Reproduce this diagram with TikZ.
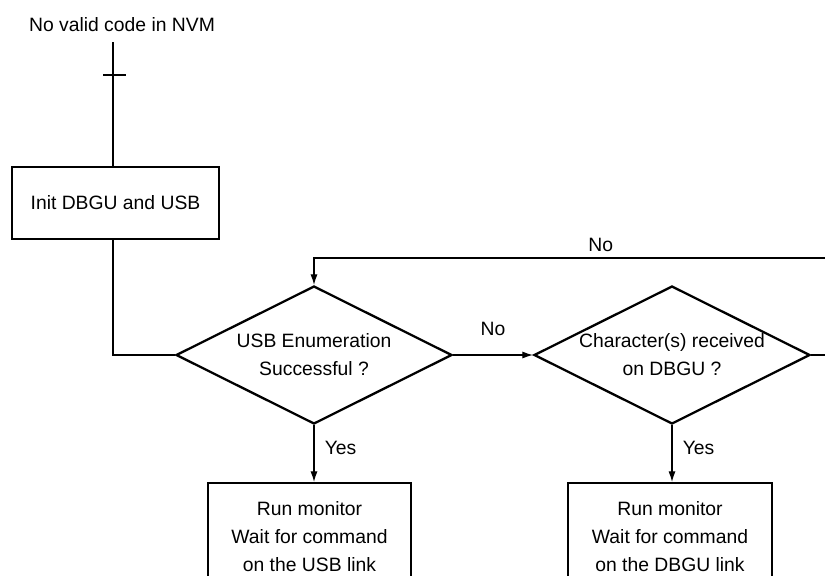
\documentclass[tikz,border=0pt]{standalone}
\usepackage{fontspec}
\setmainfont{Liberation Sans}
\usetikzlibrary{shapes.geometric,arrows.meta}
\tikzstyle{process}=[rectangle, draw, line width=1.3pt, align=center, inner sep=0pt]
\tikzstyle{decision}=[diamond, draw, line width=1.3pt, align=center, inner sep=0pt, shape aspect=2, minimum width=5.52cm, minimum height=2.76cm]
\tikzstyle{wire}=[line width=1.3pt]
\tikzstyle{flow}=[line width=0.6pt, -{Latex[length=6pt,width=4pt]}]

\begin{document}
\begin{tikzpicture}[x=0.02cm, y=-0.02cm, font=\fontsize{11}{16}\selectfont]
   \useasboundingbox (0,0) rectangle (825,575);
   \clip (0,0) rectangle (825,575);
   \node (start) at (122,25) {No valid code in NVM};
   \coordinate (entry) at (113,42);
   \coordinate (tick) at (113,75);
   \coordinate (loop) at (845,258);
   \node[process, minimum width=4.14cm, minimum height=1.44cm] (init) at (115.5,203) {Init DBGU and USB};
   \node[decision] (usb) at (314,355) {USB Enumeration\\Successful ?};
   \node[decision] (dbgu) at (672,355) {Character(s) received\\on DBGU ?};
   \node[process, minimum width=4.06cm, minimum height=2.14cm] (runusb) at (309.5,536.5) {Run monitor\\Wait for command\\on the USB link};
   \node[process, minimum width=4.08cm, minimum height=2.14cm] (rundbgu) at (670,536.5) {Run monitor\\Wait for command\\on the DBGU link};

   \draw[wire] (entry) -- (entry |- init.north);
   \draw[wire] (tick) ++(-10,0) -- ++(23,0);
   \draw[wire] (init.south -| entry) |- (usb.west);
   \draw[flow] (usb.east) -- node[above=7.5pt] {No} (dbgu.west);
   \draw[flow] (usb.south) -- node[pos=0.4, right=2.5pt] {Yes} (usb.south |- runusb.north);
   \draw[flow] (dbgu.south) -- node[pos=0.4, right=2.5pt] {Yes} (dbgu.south |- rundbgu.north);
   \draw[line width=0.6pt] (dbgu.east) -| (loop);
   \draw[flow] (loop) -| node[pos=0.23, above] {No} (usb.north);
\end{tikzpicture}
\end{document}
